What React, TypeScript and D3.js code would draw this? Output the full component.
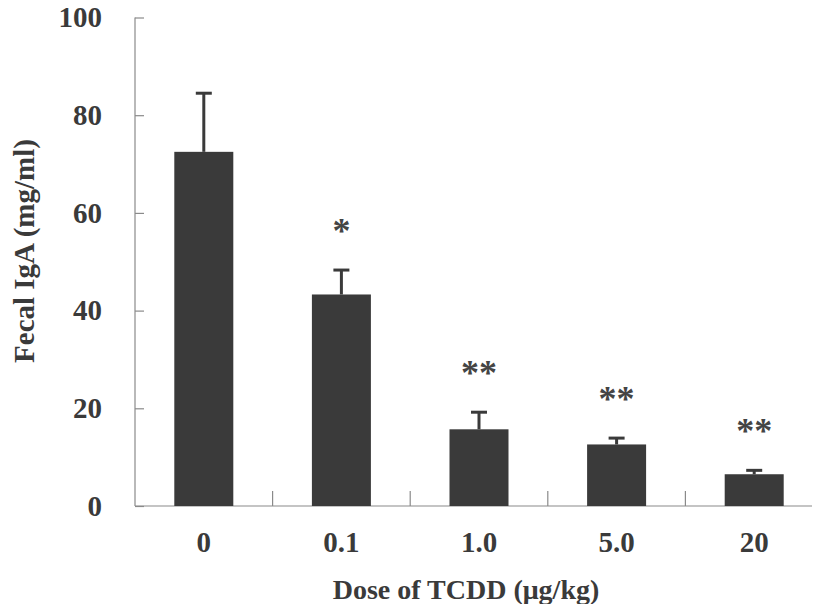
import { useEffect, useRef } from "react"
import * as d3 from "d3"

const doses = ["0", "0.1", "1.0", "5.0", "20"]
const means = [72.5, 43.3, 15.7, 12.6, 6.5]
const errs = [12, 5, 3.5, 1.3, 0.8]
const stars = ["", "*", "**", "**", "**"]
const yTicks = [0, 20, 40, 60, 80, 100]

const INK = "#3a3a3a"
const AXIS = "#8a8a8a"
const FONT = "'Liberation Serif', 'Times New Roman', serif"

export default function App() {
  const ref = useRef<SVGSVGElement>(null)
  useEffect(() => {
    if (!ref.current) return
    const svg = d3.select(ref.current)
    svg.selectAll("*").remove()

    const x = d3.scaleBand().domain(doses).range([135, 823])
    const y = d3.scaleLinear().domain([0, 100]).range([506, 17.5])
    const bw = 59

    // y axis
    const ya = svg.append("g").attr("transform", "translate(135,0)")
      .call(d3.axisRight(y).tickValues(yTicks).tickSize(9).tickFormat(() => ""))
    ya.selectAll("path,line").attr("stroke", AXIS).attr("stroke-width", 1.2)
    ya.select(".domain").attr("d", `M0,${y(100)}V${y(0)}`)
    svg.selectAll(".ylbl").data(yTicks).join("text").attr("class", "ylbl")
      .attr("x", 102).attr("y", d => y(d)).attr("dy", "0.34em").attr("text-anchor", "end")
      .style("font-family", FONT).style("font-weight", "bold").style("font-size", "29px").style("fill", INK)
      .text(d => String(d))

    // x axis
    svg.append("line").attr("x1", 135).attr("x2", 812).attr("y1", y(0)).attr("y2", y(0))
      .attr("stroke", AXIS).attr("stroke-width", 1.2)
    svg.selectAll(".xtick").data(doses.slice(1)).join("line").attr("class", "xtick")
      .attr("x1", d => x(d)!).attr("x2", d => x(d)!).attr("y1", y(0)).attr("y2", y(0) - 15)
      .attr("stroke", AXIS).attr("stroke-width", 1.2)
    svg.selectAll(".xlbl").data(doses).join("text").attr("class", "xlbl")
      .attr("x", d => x(d)! + x.bandwidth() / 2).attr("y", 552).attr("text-anchor", "middle")
      .style("font-family", FONT).style("font-weight", "bold").style("font-size", "29px").style("fill", INK)
      .text(d => d)

    // bars
    const cx = (i: number) => x(doses[i])! + x.bandwidth() / 2
    svg.selectAll(".bar").data(means).join("rect").attr("class", "bar")
      .attr("x", (_, i) => cx(i) - bw / 2).attr("width", bw)
      .attr("y", d => y(d)).attr("height", d => y(0) - y(d)).attr("fill", INK)
    svg.selectAll(".err").data(means).join("line").attr("class", "err")
      .attr("x1", (_, i) => cx(i)).attr("x2", (_, i) => cx(i))
      .attr("y1", d => y(d)).attr("y2", (d, i) => y(d + errs[i]))
      .attr("stroke", INK).attr("stroke-width", 3)
    svg.selectAll(".cap").data(means).join("line").attr("class", "cap")
      .attr("x1", (_, i) => cx(i) - 8).attr("x2", (_, i) => cx(i) + 8)
      .attr("y1", (d, i) => y(d + errs[i])).attr("y2", (d, i) => y(d + errs[i]))
      .attr("stroke", INK).attr("stroke-width", 3)
    svg.selectAll(".star").data(means).join("text").attr("class", "star")
      .attr("x", (_, i) => cx(i)).attr("y", (d, i) => y(d + errs[i]) - 27)
      .attr("text-anchor", "middle")
      .style("font-family", FONT).style("font-weight", "bold").style("font-size", "36px").style("fill", "#444")
      .text((_, i) => stars[i])

    // titles
    svg.append("text").attr("x", 466).attr("y", 599).attr("text-anchor", "middle")
      .style("font-family", FONT).style("font-weight", "bold").style("font-size", "28px").style("fill", INK)
      .text("Dose of TCDD (μg/kg)")
    svg.append("text").attr("transform", "translate(34,251) rotate(-90)").attr("text-anchor", "middle")
      .style("font-family", FONT).style("font-weight", "bold").style("font-size", "29px").style("fill", INK)
      .text("Fecal IgA (mg/ml)")
  }, [])
  return <svg ref={ref} width={815} height={604}
    style={{ position: "absolute", left: 0, top: 0, background: "#fff", display: "block" }} />
}
